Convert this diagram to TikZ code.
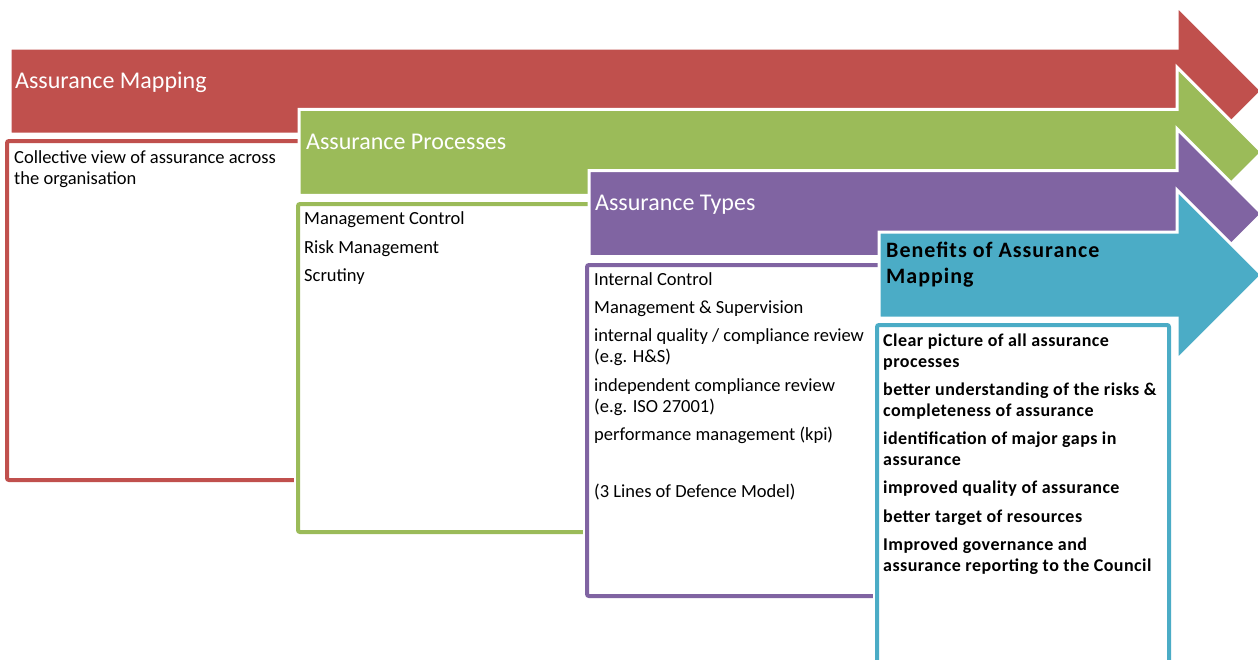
\documentclass[tikz,border=0pt]{standalone}
\usepackage{fontspec}
\setmainfont{Carlito}
\definecolor{cred}{HTML}{C0504D}
\definecolor{cgreen}{HTML}{9BBB59}
\definecolor{cpurple}{HTML}{8064A2}
\definecolor{cteal}{HTML}{4BACC6}
\newcommand{\AMarrow}[3]{%
  \fill[#1,draw=white,line width=3pt,line join=miter]
    (#2,#3-43) -- (1177,#3-43) -- (1177,#3-85) -- (1262,#3)
    -- (1177,#3+85) -- (1177,#3+43) -- (#2,#3+43) -- cycle;}
% open box: right side hidden under the next stage
\newcommand{\AMbox}[5]{%
  \draw[white,line width=8pt,fill=white] (#4,#3) -- (#2,#3) -- (#2,#5) -- (#4,#5);
  \draw[#1,line width=4pt,fill=white,rounded corners=2pt] (#4,#3) -- (#2,#3) -- (#2,#5) -- (#4,#5);}
\tikzset{
  title/.style={font=\fontsize{24}{28}\selectfont,text=white,inner sep=0pt,anchor=base west},
  btitle/.style={font=\fontsize{22}{26}\bfseries\selectfont\addfontfeature{LetterSpace=4.5},text=black,inner sep=0pt,anchor=base west},
  body/.style={font=\fontsize{18.5}{21}\selectfont,text=black,inner sep=0pt,anchor=base west},
  bbody/.style={font=\fontsize{18}{21}\bfseries\selectfont\addfontfeature{LetterSpace=2.5},text=black,inner sep=0pt,anchor=base west}
}
\begin{document}
\begin{tikzpicture}[x=1pt,y=-1pt]
\useasboundingbox (0,0) rectangle (1258,659);
\clip (0,0) rectangle (1258,659);
% red
\AMarrow{cred}{10}{91}
\node[title] (t1) at (15,88) {Assurance Mapping};
\AMbox{cred}{7}{141}{320}{480}
\node[body] (r1) at (14,163) {Collective view of assurance across};
\node[body] (r2) at (14,184) {the organisation};
% green
\AMarrow{cgreen}{299}{152.3}
\node[title] (t2) at (306,149) {Assurance Processes};
\AMbox{cgreen}{298}{204}{610}{532}
\node[body] (g1) at (304,224) {Management Control};
\node[body] (g2) at (304,253) {Risk Management};
\node[body] (g3) at (304,281) {Scrutiny};
% purple
\AMarrow{cpurple}{589}{213.7}
\node[title] (t3) at (595,210) {Assurance Types};
\AMbox{cpurple}{587}{265}{900}{596}
\node[body] (p1) at (594,285) {Internal Control};
\node[body] (p2) at (594,313) {Management \& Supervision};
\node[body] (p3) at (594,341) {internal quality / compliance review};
\node[body] (p4) at (594,362) {(e.g. H\&S)};
\node[body] (p5) at (594,391) {independent compliance review};
\node[body] (p6) at (594,412) {(e.g. ISO 27001)};
\node[body] (p7) at (594,440) {performance management (kpi)};
\node[body] (p8) at (594,497) {(3 Lines of Defence Model)};
% teal
\AMarrow{cteal}{879}{275}
\node[btitle] (t4) at (886,257) {Benefits of Assurance};
\node[btitle] (t5) at (886,283) {Mapping};
\draw[white,line width=8pt,fill=white] (877,325) rectangle (1169,700);
\draw[cteal,line width=4pt,fill=white,rounded corners=2pt] (877,325) rectangle (1169,700);
\node[bbody] (b1) at (883,346) {Clear picture of all assurance};
\node[bbody] (b2) at (883,367) {processes};
\node[bbody] (b3) at (883,395) {better understanding of the risks \&};
\node[bbody] (b4) at (883,416) {completeness of assurance};
\node[bbody] (b5) at (883,444) {identification of major gaps in};
\node[bbody] (b6) at (883,465) {assurance};
\node[bbody] (b7) at (883,493) {improved quality of assurance};
\node[bbody] (b8) at (883,522) {better target of resources};
\node[bbody] (b9) at (883,550) {Improved governance and};
\node[bbody] (b10) at (883,571) {assurance reporting to the Council};
\end{tikzpicture}
\end{document}
